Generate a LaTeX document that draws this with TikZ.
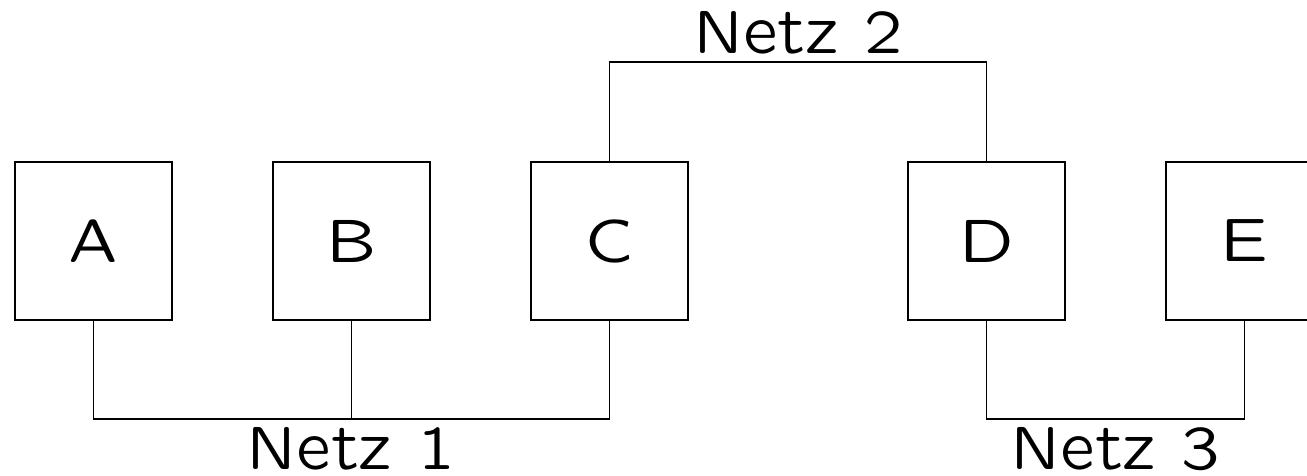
\documentclass[tikz,border=0pt]{standalone}
\usepackage{fontspec}
\newfontfamily\quotfamily{lmsansquot8-regular.otf}
\usepackage{tikz}
\usetikzlibrary{positioning,calc}
\newcommand{\quotsans}{\quotfamily\fontsize{17.5}{21}\selectfont}
\tikzset{
  unit/.style={draw,minimum width=1.57cm,minimum height=1.58cm,inner sep=0pt,
    outer sep=0pt,font=\quotsans},
  netlabel/.style={anchor=base,inner sep=0pt,font=\quotsans},
  wire/.style={draw,line width=0.5pt}
}
\begin{document}
\begin{tikzpicture}[node distance=1.01cm,line width=0.5pt]
  \useasboundingbox (0,0) rectangle (13.07,4.75);
  \node[unit] at (0.935,2.34) (a) {A};
  \node[unit,right=of a] (b) {B};
  \node[unit,right=of b] (c) {C};
  \node[unit,right=2.2cm of c] (d) {D};
  \node[unit,right=of d] (e) {E};
  % Netz 1
  \coordinate (n1) at ($(b.south)+(0,-0.99)$);
  \draw[wire] (a.south) |- (n1) -| (c.south);
  \draw[wire] (b.south) -- (n1);
  % Netz 2
  \coordinate (n2) at ($(c.north)!0.5!(d.north)+(0,1.0)$);
  \draw[wire] (c.north) |- (n2) -| (d.north);
  % Netz 3
  \coordinate (n3) at ($(d.south)!0.5!(e.south)+(0,-0.99)$);
  \draw[wire] (d.south) |- (n3) -| (e.south);
  \node[netlabel] at ($(n1)+(0,-0.50)$) (l1) {Netz 1};
  \node[netlabel] at ($(n2)+(0,0.09)$) (l2) {Netz 2};
  \node[netlabel] at ($(n3)+(0,-0.50)$) (l3) {Netz 3};
\end{tikzpicture}
\end{document}
